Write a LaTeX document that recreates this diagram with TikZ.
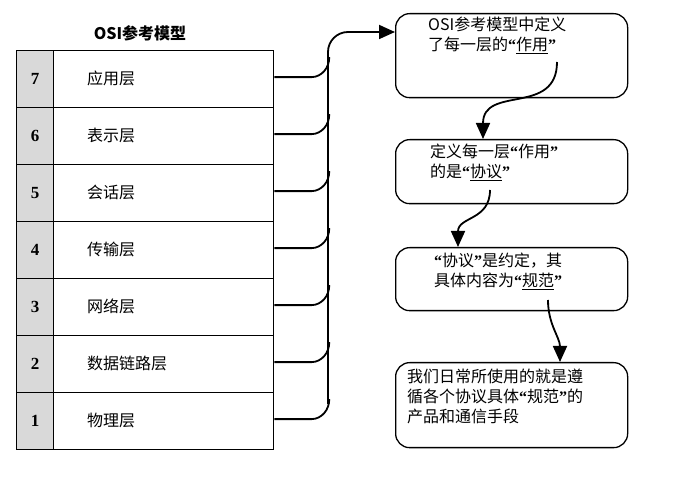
\documentclass[tikz,border=0pt]{standalone}
\usepackage{fontspec}
\setmainfont{Liberation Serif}
\newfontfamily\cjk{Noto Sans CJK SC}
\newcommand{\myLq}{{\rmfamily\bfseries “}}
\newcommand{\myRq}{{\rmfamily\bfseries ”}}
\usetikzlibrary{arrows.meta}
\begin{document}
\begin{tikzpicture}[x=1pt,y=-1pt,
  lay/.style={draw,line width=1.3pt,minimum width=220pt,minimum height=57pt,inner sep=0,anchor=north west},
  num/.style={draw,line width=1.3pt,fill=gray!30,minimum width=37pt,minimum height=57pt,inner sep=0,anchor=north west,font=\bfseries\fontsize{17}{17}\selectfont},
  box/.style={draw,line width=1.3pt,rounded corners=14pt,anchor=north west,inner sep=0},
  txt/.style={font=\cjk\fontsize{16}{20}\selectfont,align=left,anchor=north west,inner sep=0},
  con/.style={line width=1.8pt},
  arr/.style={line width=1.8pt,-{Triangle[length=16pt,width=14pt]}}]
\useasboundingbox (0,0) rectangle (673,486);
\node[font=\cjk\bfseries\fontsize{16}{18}\selectfont] (title) at (140,33) {OSI参考模型};
\foreach \n/\t [count=\i from 0] in {7/应用层,6/表示层,5/会话层,4/传输层,3/网络层,2/数据链路层,1/物理层}{
  \node[lay] (r\n) at (53,50+57*\i) {};
  \node[num] (n\n) at (16,50+57*\i) {\n};
  \node[txt,anchor=west] (t\n) at (87,78+57*\i) {\t};
}
\coordinate (tb) at (328,404);
\coordinate (tt) at (328,52);
\foreach \n in {7,6,5,4,3,2,1}{
  \draw[con] (r\n.east) ++(0,-2) -- ++(37,0) to[out=0,in=-90] ++(18,-20);
}
\node[box,minimum width=232pt,minimum height=84pt] (b1) at (395,13) {};
\node[box,minimum width=232pt,minimum height=64pt] (b2) at (395,139) {};
\node[box,minimum width=232pt,minimum height=63pt] (b3) at (395,247) {};
\node[box,minimum width=232pt,minimum height=85pt] (b4) at (395,362) {};
\draw[arr] (tb) -- (tt) to[out=90,in=180] (348,32) -- (b1.west |- 0,32);
\node[txt] (x1) at (428,17) {OSI参考模型中定义\\了每一层的\myLq\underline{作用}\myRq};
\node[txt] (x2) at (430,144) {定义每一层\myLq 作用\myRq\\的是\myLq\underline{协议}\myRq};
\node[txt] (x3) at (434,253) {\myLq 协议\myRq 是约定，其\\具体内容为\myLq\underline{规范}\myRq};
\node[txt] (x4) at (407,369) {我们日常所使用的就是遵\\循各个协议具体\myLq 规范\myRq 的\\产品和通信手段};
\coordinate (s1) at (557,62);
\coordinate (s2) at (490,190);
\coordinate (s3) at (548,300);
\draw[arr] (s1) to[out=-90,in=90,looseness=1.3] (b2.north -| 483,0);
\draw[arr] (s2) to[out=-90,in=90,looseness=1.2] (b3.north -| 458,0);
\draw[arr] (s3) to[out=-90,in=90] (b4.north -| 560,0);
\end{tikzpicture}
\end{document}
